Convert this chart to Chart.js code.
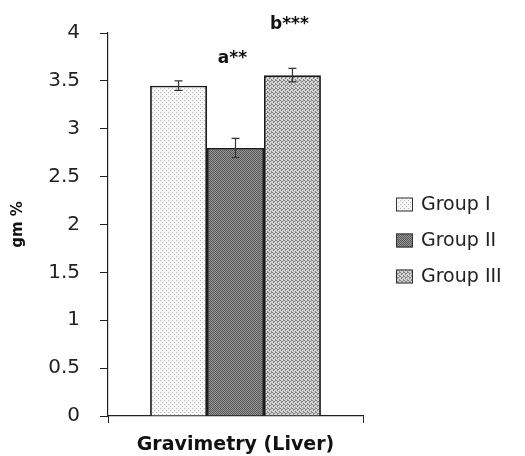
<!DOCTYPE html>
<html><head><meta charset="utf-8">
<script src="https://cdn.jsdelivr.net/npm/chart.js@4/dist/chart.umd.min.js"></script>
<style>html,body{margin:0;padding:0;background:#fff}#wrap{width:525px;height:456px}</style>
</head><body><div id="wrap"><canvas id="c" width="525" height="456"></canvas></div>
<script>
const categories = ['Gravimetry (Liver)'];
const groups = ['Group I', 'Group II', 'Group III'];
const values = [3.45, 2.80, 3.56];
const errors = [0.05, 0.10, 0.07];
const sigLabels = ['', 'a**', 'b***'];
const sigLabelValues = [null, 3.73, 4.09];
const yTicks = [0, 0.5, 1, 1.5, 2, 2.5, 3, 3.5, 4];

function makePattern(bg, fg, cells, size) {
  const c = document.createElement('canvas');
  c.width = size; c.height = size;
  const g = c.getContext('2d');
  g.fillStyle = bg; g.fillRect(0, 0, size, size);
  g.fillStyle = fg;
  cells.forEach(([x, y]) => g.fillRect(x, y, 1, 1));
  return g.createPattern(c, 'repeat');
}
const fills = [
  makePattern('#f8f8f8', '#b4b4b4', [[0,0],[2,2]], 4),
  makePattern('#9a9a9a', '#555555', [[0,0],[1,1],[2,0],[3,1],[0,2],[1,3],[2,2],[3,3]], 4),
  makePattern('#d4d4d4', '#858585', [[0,0],[2,1],[1,2],[3,3],[3,0],[1,1]], 4)
];

const extras = {
  id: 'extras',
  afterDatasetsDraw(chart) {
    const ctx = chart.ctx, y = chart.scales.y;
    ctx.save();
    ctx.strokeStyle = '#333'; ctx.lineWidth = 1.2;
    chart.data.datasets.forEach((ds, i) => {
      const bar = chart.getDatasetMeta(i).data[0];
      const v = ds.data[0], e = errors[i];
      const x = bar.x, y1 = y.getPixelForValue(v + e), y2 = y.getPixelForValue(v - e);
      ctx.beginPath();
      ctx.moveTo(x, y1); ctx.lineTo(x, y2);
      ctx.moveTo(x - 4, y1); ctx.lineTo(x + 4, y1);
      ctx.moveTo(x - 4, y2); ctx.lineTo(x + 4, y2);
      ctx.stroke();
      if (sigLabels[i]) {
        ctx.fillStyle = '#111';
        ctx.font = 'bold 17px "DejaVu Sans"';
        ctx.textAlign = 'center'; ctx.textBaseline = 'middle';
        ctx.fillText(sigLabels[i], x - 3, y.getPixelForValue(sigLabelValues[i]));
      }
    });
    ctx.restore();
  },
  afterDraw(chart) {
    // legend
    const ctx = chart.ctx;
    const x0 = chart.chartArea.right + 33;
    const cy = (chart.chartArea.top + chart.chartArea.bottom) / 2 + 16;
    ctx.save();
    chart.data.datasets.forEach((ds, i) => {
      const yc = cy + (i - 1) * 36;
      ctx.fillStyle = ds.backgroundColor;
      ctx.fillRect(x0, yc - 7, 17, 14);
      ctx.strokeStyle = '#333'; ctx.lineWidth = 1;
      ctx.strokeRect(x0 + 0.5, yc - 6.5, 16, 13);
      ctx.fillStyle = '#222';
      ctx.font = '19px "DejaVu Sans"';
      ctx.textAlign = 'left'; ctx.textBaseline = 'middle';
      ctx.fillText(ds.label, x0 + 25, yc + 1);
    });
    ctx.restore();
  }
};

new Chart(document.getElementById('c'), {
  type: 'bar',
  data: {
    labels: categories,
    datasets: groups.map((g, i) => ({
      label: g,
      data: [values[i]],
      backgroundColor: fills[i],
      borderColor: '#1a1a1a',
      borderWidth: 1.8
    }))
  },
  options: {
    responsive: false,
    animation: false,
    layout: { padding: { top: 33, right: 162, left: 0, bottom: 0 } },
    datasets: { bar: { categoryPercentage: 0.67, barPercentage: 1.0 } },
    plugins: {
      legend: { display: false },
      tooltip: { enabled: false }
    },
    scales: {
      x: {
        offset: true,
        afterFit(scale) { scale.height = 40; },
        grid: { display: true, drawOnChartArea: false, drawTicks: true, tickLength: 7, color: '#222', offset: true },
        border: { display: true, color: '#222', width: 1.2 },
        ticks: { color: '#111', font: { family: 'DejaVu Sans', size: 19, weight: 'bold' }, padding: 11 }
      },
      y: {
        min: 0, max: 4,
        afterFit(scale) { scale.width = 108; },
        afterBuildTicks(scale) { scale.ticks = yTicks.map(v => ({ value: v })); },
        grid: { display: true, drawOnChartArea: false, drawTicks: true, tickLength: 8, color: '#222' },
        border: { display: true, color: '#222', width: 1.2 },
        ticks: { color: '#222', font: { family: 'DejaVu Sans', size: 20 }, padding: 20,
          callback: v => String(v) },
        title: { display: true, text: 'gm %', color: '#111', font: { family: 'DejaVu Sans', size: 15, weight: 'bold' }, padding: { top: 9, bottom: 0 } }
      }
    }
  },
  plugins: [extras]
});
</script></body></html>
